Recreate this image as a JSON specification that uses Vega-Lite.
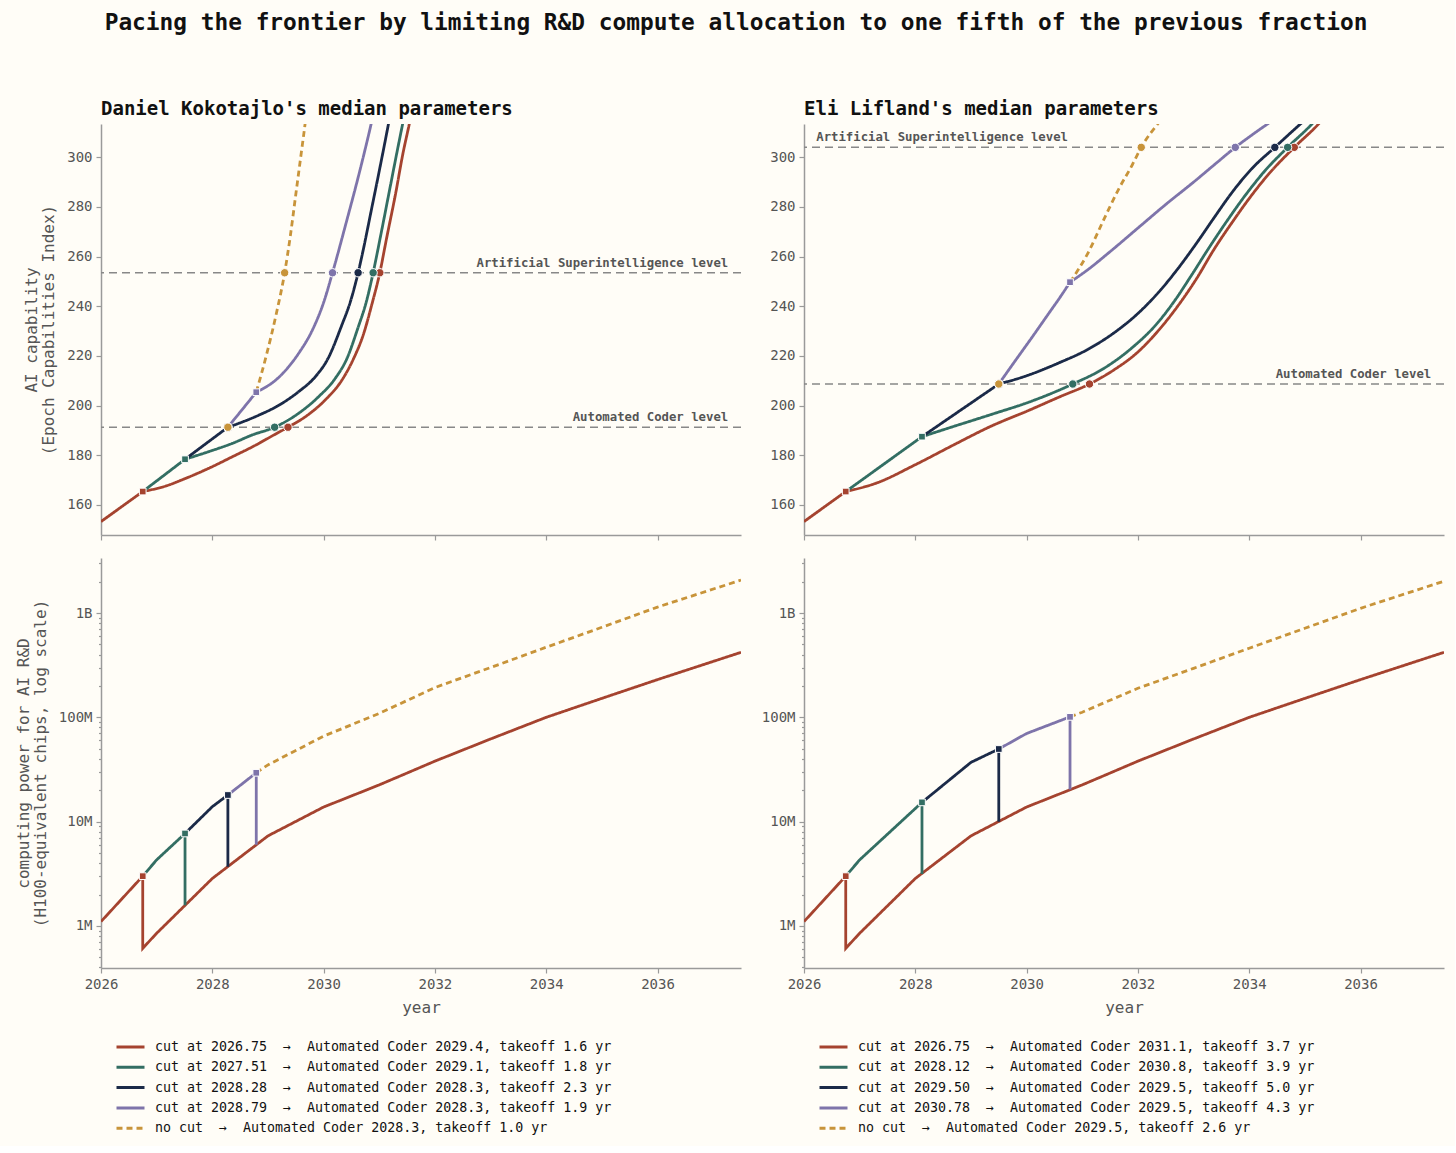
{
  "$schema": "https://vega.github.io/schema/vega-lite/v6.json",
  "background": "#fffdf7",
  "padding": {"left": 15, "top": 12, "right": 10, "bottom": 10},
  "title": {
    "text": "Pacing the frontier by limiting R&D compute allocation to one fifth of the previous fraction",
    "font": "DejaVu Sans Mono",
    "fontSize": 22.8,
    "fontWeight": "bold",
    "color": "#111111",
    "anchor": "middle",
    "frame": "bounds",
    "dx": 6,
    "offset": 65
  },
  "config": {
    "font": "DejaVu Sans Mono",
    "view": {"stroke": null},
    "axis": {
      "grid": false,
      "domainColor": "#9a9a9a",
      "domainWidth": 1.5,
      "tickColor": "#9a9a9a",
      "tickWidth": 1.2,
      "tickSize": 5,
      "labelFont": "DejaVu Sans Mono",
      "labelFontSize": 14,
      "labelColor": "#555555",
      "labelPadding": 4,
      "titleFont": "DejaVu Sans Mono",
      "titleFontSize": 16,
      "titleFontWeight": "normal",
      "titleColor": "#555555",
      "titleLineHeight": 17
    },
    "legend": {
      "orient": "none",
      "legendX": 14,
      "legendY": 482,
      "direction": "vertical",
      "symbolType": "stroke",
      "symbolSize": 784,
      "symbolStrokeWidth": 3,
      "clipHeight": 14,
      "rowPadding": 6.3,
      "labelOffset": 9,
      "labelFont": "DejaVu Sans Mono",
      "labelFontSize": 13.3,
      "labelColor": "#111111",
      "labelLimit": 700
    }
  },
  "datasets": {
    "dk_cap": [
      {"s": "c1", "p": 1, "x": 2026, "y": 153.3}, {"s": "c1", "p": 1, "x": 2026.75, "y": 165.4},
      {"s": "c1", "p": 2, "x": 2026.75, "y": 165.4}, {"s": "c1", "p": 2, "x": 2027.16, "y": 167.6}, {"s": "c1", "p": 2, "x": 2027.52, "y": 170.7},
      {"s": "c1", "p": 2, "x": 2027.94, "y": 174.8}, {"s": "c1", "p": 2, "x": 2028.36, "y": 179.4}, {"s": "c1", "p": 2, "x": 2028.78, "y": 184.1},
      {"s": "c1", "p": 2, "x": 2029.14, "y": 188.6}, {"s": "c1", "p": 2, "x": 2029.36, "y": 191.3}, {"s": "c1", "p": 2, "x": 2029.67, "y": 195.5},
      {"s": "c1", "p": 2, "x": 2030.03, "y": 202.3}, {"s": "c1", "p": 2, "x": 2030.33, "y": 210.3}, {"s": "c1", "p": 2, "x": 2030.53, "y": 218.5},
      {"s": "c1", "p": 2, "x": 2030.72, "y": 229.0}, {"s": "c1", "p": 2, "x": 2030.87, "y": 241.0}, {"s": "c1", "p": 2, "x": 2031.01, "y": 253.5},
      {"s": "c1", "p": 2, "x": 2031.13, "y": 267.2}, {"s": "c1", "p": 2, "x": 2031.3, "y": 286.1}, {"s": "c1", "p": 2, "x": 2031.42, "y": 300.9},
      {"s": "c1", "p": 2, "x": 2031.55, "y": 314.5}, {"s": "c1", "p": 2, "x": 2031.6, "y": 320},
      {"s": "c2", "p": 1, "x": 2026.75, "y": 165.4}, {"s": "c2", "p": 1, "x": 2027.51, "y": 178.4},
      {"s": "c2", "p": 2, "x": 2027.51, "y": 178.4}, {"s": "c2", "p": 2, "x": 2027.94, "y": 181.5}, {"s": "c2", "p": 2, "x": 2028.36, "y": 184.8},
      {"s": "c2", "p": 2, "x": 2028.72, "y": 188.2}, {"s": "c2", "p": 2, "x": 2029.12, "y": 191.3}, {"s": "c2", "p": 2, "x": 2029.55, "y": 196.9},
      {"s": "c2", "p": 2, "x": 2029.91, "y": 203.6}, {"s": "c2", "p": 2, "x": 2030.21, "y": 211.0}, {"s": "c2", "p": 2, "x": 2030.42, "y": 219.0},
      {"s": "c2", "p": 2, "x": 2030.62, "y": 231.5}, {"s": "c2", "p": 2, "x": 2030.77, "y": 242.0}, {"s": "c2", "p": 2, "x": 2030.89, "y": 253.5},
      {"s": "c2", "p": 2, "x": 2031.03, "y": 269.0}, {"s": "c2", "p": 2, "x": 2031.2, "y": 288.5}, {"s": "c2", "p": 2, "x": 2031.34, "y": 304.5},
      {"s": "c2", "p": 2, "x": 2031.43, "y": 314.5}, {"s": "c2", "p": 2, "x": 2031.48, "y": 320},
      {"s": "c3", "p": 1, "x": 2027.51, "y": 178.4}, {"s": "c3", "p": 1, "x": 2028.28, "y": 191.3},
      {"s": "c3", "p": 2, "x": 2028.28, "y": 191.3}, {"s": "c3", "p": 2, "x": 2028.48, "y": 192.9}, {"s": "c3", "p": 2, "x": 2028.84, "y": 196.2},
      {"s": "c3", "p": 2, "x": 2029.2, "y": 200.2}, {"s": "c3", "p": 2, "x": 2029.55, "y": 205.6}, {"s": "c3", "p": 2, "x": 2029.85, "y": 211.6},
      {"s": "c3", "p": 2, "x": 2030.08, "y": 219.0}, {"s": "c3", "p": 2, "x": 2030.32, "y": 232.0}, {"s": "c3", "p": 2, "x": 2030.49, "y": 242.5},
      {"s": "c3", "p": 2, "x": 2030.62, "y": 253.5}, {"s": "c3", "p": 2, "x": 2030.71, "y": 262.5}, {"s": "c3", "p": 2, "x": 2030.86, "y": 279.0},
      {"s": "c3", "p": 2, "x": 2031.0, "y": 294.5}, {"s": "c3", "p": 2, "x": 2031.17, "y": 314.0}, {"s": "c3", "p": 2, "x": 2031.22, "y": 320},
      {"s": "c4", "p": 1, "x": 2028.28, "y": 191.3}, {"s": "c4", "p": 1, "x": 2028.79, "y": 205.4},
      {"s": "c4", "p": 2, "x": 2028.79, "y": 205.4}, {"s": "c4", "p": 2, "x": 2029.2, "y": 211.5}, {"s": "c4", "p": 2, "x": 2029.55, "y": 221.0},
      {"s": "c4", "p": 2, "x": 2029.8, "y": 230.5}, {"s": "c4", "p": 2, "x": 2030.0, "y": 241.5}, {"s": "c4", "p": 2, "x": 2030.16, "y": 253.5},
      {"s": "c4", "p": 2, "x": 2030.4, "y": 273.2}, {"s": "c4", "p": 2, "x": 2030.65, "y": 294.5}, {"s": "c4", "p": 2, "x": 2030.86, "y": 314.0},
      {"s": "c4", "p": 2, "x": 2030.92, "y": 320},
      {"s": "none", "p": 2, "x": 2028.79, "y": 205.4}, {"s": "none", "p": 2, "x": 2028.98, "y": 221.0}, {"s": "none", "p": 2, "x": 2029.15, "y": 237.0},
      {"s": "none", "p": 2, "x": 2029.3, "y": 253.5}, {"s": "none", "p": 2, "x": 2029.4, "y": 268.0}, {"s": "none", "p": 2, "x": 2029.5, "y": 285.0},
      {"s": "none", "p": 2, "x": 2029.6, "y": 302.0}, {"s": "none", "p": 2, "x": 2029.67, "y": 314.0}, {"s": "none", "p": 2, "x": 2029.7, "y": 320}
    ],
    "dk_cap_cuts": [
      {"s": "c1", "x": 2026.75, "y": 165.4}, {"s": "c2", "x": 2027.51, "y": 178.4},
      {"s": "c3", "x": 2028.28, "y": 191.3}, {"s": "c4", "x": 2028.79, "y": 205.4}
    ],
    "dk_cap_hits": [
      {"s": "c1", "x": 2029.36, "y": 191.3}, {"s": "c2", "x": 2029.12, "y": 191.3}, {"s": "c3", "x": 2028.28, "y": 191.3},
      {"s": "c4", "x": 2028.28, "y": 191.3}, {"s": "none", "x": 2028.28, "y": 191.3},
      {"s": "c1", "x": 2031.01, "y": 253.5}, {"s": "c2", "x": 2030.89, "y": 253.5}, {"s": "c3", "x": 2030.62, "y": 253.5},
      {"s": "c4", "x": 2030.16, "y": 253.5}, {"s": "none", "x": 2029.3, "y": 253.5}
    ],
    "dk_levels": [
      {"level": "Artificial Superintelligence level", "y": 253.5, "lx": 2037.27},
      {"level": "Automated Coder level", "y": 191.3, "lx": 2037.27}
    ],
    "el_cap": [
      {"s": "c1", "p": 1, "x": 2026, "y": 153.3}, {"s": "c1", "p": 1, "x": 2026.75, "y": 165.4},
      {"s": "c1", "p": 2, "x": 2026.75, "y": 165.4}, {"s": "c1", "p": 2, "x": 2027.3, "y": 168.8}, {"s": "c1", "p": 2, "x": 2028.0, "y": 176.2},
      {"s": "c1", "p": 2, "x": 2028.7, "y": 184.3}, {"s": "c1", "p": 2, "x": 2029.36, "y": 191.7}, {"s": "c1", "p": 2, "x": 2030.01, "y": 197.8},
      {"s": "c1", "p": 2, "x": 2030.59, "y": 203.5}, {"s": "c1", "p": 2, "x": 2031.13, "y": 208.7}, {"s": "c1", "p": 2, "x": 2031.57, "y": 214.4},
      {"s": "c1", "p": 2, "x": 2031.98, "y": 221.2}, {"s": "c1", "p": 2, "x": 2032.39, "y": 230.8}, {"s": "c1", "p": 2, "x": 2032.72, "y": 240.2},
      {"s": "c1", "p": 2, "x": 2033.05, "y": 251.0}, {"s": "c1", "p": 2, "x": 2033.37, "y": 263.0}, {"s": "c1", "p": 2, "x": 2033.7, "y": 274.0},
      {"s": "c1", "p": 2, "x": 2034.03, "y": 284.3}, {"s": "c1", "p": 2, "x": 2034.36, "y": 293.5}, {"s": "c1", "p": 2, "x": 2034.81, "y": 304.0},
      {"s": "c1", "p": 2, "x": 2035.25, "y": 313.5}, {"s": "c1", "p": 2, "x": 2035.35, "y": 316},
      {"s": "c2", "p": 1, "x": 2026.75, "y": 165.4}, {"s": "c2", "p": 1, "x": 2028.12, "y": 187.5},
      {"s": "c2", "p": 2, "x": 2028.12, "y": 187.5}, {"s": "c2", "p": 2, "x": 2028.7, "y": 191.7}, {"s": "c2", "p": 2, "x": 2029.36, "y": 196.4},
      {"s": "c2", "p": 2, "x": 2030.09, "y": 201.8}, {"s": "c2", "p": 2, "x": 2030.83, "y": 208.7}, {"s": "c2", "p": 2, "x": 2031.41, "y": 215.3},
      {"s": "c2", "p": 2, "x": 2031.9, "y": 223.4}, {"s": "c2", "p": 2, "x": 2032.31, "y": 232.2}, {"s": "c2", "p": 2, "x": 2032.64, "y": 241.6},
      {"s": "c2", "p": 2, "x": 2032.96, "y": 252.4}, {"s": "c2", "p": 2, "x": 2033.29, "y": 264.0}, {"s": "c2", "p": 2, "x": 2033.62, "y": 275.0},
      {"s": "c2", "p": 2, "x": 2033.95, "y": 285.3}, {"s": "c2", "p": 2, "x": 2034.28, "y": 294.5}, {"s": "c2", "p": 2, "x": 2034.69, "y": 304.0},
      {"s": "c2", "p": 2, "x": 2035.13, "y": 313.5}, {"s": "c2", "p": 2, "x": 2035.23, "y": 316},
      {"s": "c3", "p": 1, "x": 2028.12, "y": 187.5}, {"s": "c3", "p": 1, "x": 2029.5, "y": 208.7},
      {"s": "c3", "p": 2, "x": 2029.5, "y": 208.7}, {"s": "c3", "p": 2, "x": 2029.93, "y": 211.5}, {"s": "c3", "p": 2, "x": 2030.59, "y": 217.3},
      {"s": "c3", "p": 2, "x": 2031.08, "y": 222.4}, {"s": "c3", "p": 2, "x": 2031.57, "y": 229.3}, {"s": "c3", "p": 2, "x": 2031.98, "y": 236.7},
      {"s": "c3", "p": 2, "x": 2032.39, "y": 246.1}, {"s": "c3", "p": 2, "x": 2032.72, "y": 255.2}, {"s": "c3", "p": 2, "x": 2033.05, "y": 265.3},
      {"s": "c3", "p": 2, "x": 2033.37, "y": 275.7}, {"s": "c3", "p": 2, "x": 2033.7, "y": 286.1}, {"s": "c3", "p": 2, "x": 2034.05, "y": 295.5},
      {"s": "c3", "p": 2, "x": 2034.46, "y": 304.0}, {"s": "c3", "p": 2, "x": 2034.9, "y": 313.0}, {"s": "c3", "p": 2, "x": 2035.05, "y": 316},
      {"s": "c4", "p": 1, "x": 2029.5, "y": 208.7}, {"s": "c4", "p": 1, "x": 2029.8, "y": 218.2}, {"s": "c4", "p": 1, "x": 2030.1, "y": 227.6},
      {"s": "c4", "p": 1, "x": 2030.4, "y": 237.2}, {"s": "c4", "p": 1, "x": 2030.6, "y": 243.6}, {"s": "c4", "p": 1, "x": 2030.78, "y": 249.7},
      {"s": "c4", "p": 2, "x": 2030.78, "y": 249.7}, {"s": "c4", "p": 2, "x": 2031.08, "y": 254.4}, {"s": "c4", "p": 2, "x": 2031.5, "y": 262.0},
      {"s": "c4", "p": 2, "x": 2032.0, "y": 271.5}, {"s": "c4", "p": 2, "x": 2032.5, "y": 281.0}, {"s": "c4", "p": 2, "x": 2033.0, "y": 290.0},
      {"s": "c4", "p": 2, "x": 2033.4, "y": 297.5}, {"s": "c4", "p": 2, "x": 2033.75, "y": 304.0}, {"s": "c4", "p": 2, "x": 2034.1, "y": 309.8},
      {"s": "c4", "p": 2, "x": 2034.4, "y": 314.5},
      {"s": "none", "p": 2, "x": 2030.78, "y": 249.7}, {"s": "none", "p": 2, "x": 2031.08, "y": 260.5}, {"s": "none", "p": 2, "x": 2031.41, "y": 276.0},
      {"s": "none", "p": 2, "x": 2031.65, "y": 287.0}, {"s": "none", "p": 2, "x": 2031.9, "y": 297.0}, {"s": "none", "p": 2, "x": 2032.06, "y": 304.0},
      {"s": "none", "p": 2, "x": 2032.37, "y": 313.8}, {"s": "none", "p": 2, "x": 2032.45, "y": 316}
    ],
    "el_cap_cuts": [
      {"s": "c1", "x": 2026.75, "y": 165.4}, {"s": "c2", "x": 2028.12, "y": 187.5},
      {"s": "c3", "x": 2029.5, "y": 208.7}, {"s": "c4", "x": 2030.78, "y": 249.7}
    ],
    "el_cap_hits": [
      {"s": "c1", "x": 2031.13, "y": 208.7}, {"s": "c2", "x": 2030.83, "y": 208.7}, {"s": "c3", "x": 2029.5, "y": 208.7},
      {"s": "c4", "x": 2029.5, "y": 208.7}, {"s": "none", "x": 2029.5, "y": 208.7},
      {"s": "c1", "x": 2034.81, "y": 304.0}, {"s": "c2", "x": 2034.69, "y": 304.0}, {"s": "c3", "x": 2034.46, "y": 304.0},
      {"s": "c4", "x": 2033.75, "y": 304.0}, {"s": "none", "x": 2032.06, "y": 304.0}
    ],
    "el_levels": [
      {"level": "Artificial Superintelligence level", "y": 304.0, "lx": 2026.22},
      {"level": "Automated Coder level", "y": 208.7, "lx": 2037.27}
    ],
    "dk_cmp": [
      {"s": "c1", "x": 2026, "y": 1100000}, {"s": "c1", "x": 2026.75, "y": 3000000}, {"s": "c1", "x": 2026.75, "y": 610000},
      {"s": "c1", "x": 2027, "y": 850000}, {"s": "c1", "x": 2028, "y": 2850000}, {"s": "c1", "x": 2029, "y": 7300000},
      {"s": "c1", "x": 2030, "y": 13800000}, {"s": "c1", "x": 2031, "y": 22500000}, {"s": "c1", "x": 2032, "y": 38000000},
      {"s": "c1", "x": 2033, "y": 62000000}, {"s": "c1", "x": 2034, "y": 100000000}, {"s": "c1", "x": 2035, "y": 152000000},
      {"s": "c1", "x": 2036, "y": 230000000}, {"s": "c1", "x": 2037.5, "y": 420000000},
      {"s": "c2", "x": 2026.75, "y": 3000000}, {"s": "c2", "x": 2027, "y": 4300000}, {"s": "c2", "x": 2027.51, "y": 7700000},
      {"s": "c2", "x": 2027.51, "y": 1580000},
      {"s": "c3", "x": 2027.51, "y": 7700000}, {"s": "c3", "x": 2028, "y": 13900000}, {"s": "c3", "x": 2028.28, "y": 18000000},
      {"s": "c3", "x": 2028.28, "y": 3700000},
      {"s": "c4", "x": 2028.28, "y": 18000000}, {"s": "c4", "x": 2028.79, "y": 29400000}, {"s": "c4", "x": 2028.79, "y": 6000000},
      {"s": "none", "x": 2028.79, "y": 29400000}, {"s": "none", "x": 2029, "y": 35000000}, {"s": "none", "x": 2030, "y": 66000000},
      {"s": "none", "x": 2031, "y": 109000000}, {"s": "none", "x": 2032, "y": 193000000}, {"s": "none", "x": 2033, "y": 300000000},
      {"s": "none", "x": 2034, "y": 470000000}, {"s": "none", "x": 2035, "y": 730000000}, {"s": "none", "x": 2036, "y": 1140000000},
      {"s": "none", "x": 2037.5, "y": 2070000000}
    ],
    "dk_cmp_cuts": [
      {"s": "c1", "x": 2026.75, "y": 3000000}, {"s": "c2", "x": 2027.51, "y": 7700000},
      {"s": "c3", "x": 2028.28, "y": 18000000}, {"s": "c4", "x": 2028.79, "y": 29400000}
    ],
    "el_cmp": [
      {"s": "c1", "x": 2026, "y": 1100000}, {"s": "c1", "x": 2026.75, "y": 3000000}, {"s": "c1", "x": 2026.75, "y": 610000},
      {"s": "c1", "x": 2027, "y": 850000}, {"s": "c1", "x": 2028, "y": 2850000}, {"s": "c1", "x": 2029, "y": 7300000},
      {"s": "c1", "x": 2030, "y": 13800000}, {"s": "c1", "x": 2031, "y": 22500000}, {"s": "c1", "x": 2032, "y": 38000000},
      {"s": "c1", "x": 2033, "y": 62000000}, {"s": "c1", "x": 2034, "y": 100000000}, {"s": "c1", "x": 2035, "y": 152000000},
      {"s": "c1", "x": 2036, "y": 230000000}, {"s": "c1", "x": 2037.5, "y": 420000000},
      {"s": "c2", "x": 2026.75, "y": 3000000}, {"s": "c2", "x": 2027, "y": 4300000}, {"s": "c2", "x": 2028.12, "y": 15300000},
      {"s": "c2", "x": 2028.12, "y": 3150000},
      {"s": "c3", "x": 2028.12, "y": 15300000}, {"s": "c3", "x": 2029, "y": 37000000}, {"s": "c3", "x": 2029.5, "y": 49700000},
      {"s": "c3", "x": 2029.5, "y": 10000000},
      {"s": "c4", "x": 2029.5, "y": 49700000}, {"s": "c4", "x": 2030, "y": 70000000}, {"s": "c4", "x": 2030.78, "y": 101000000},
      {"s": "c4", "x": 2030.78, "y": 20300000},
      {"s": "none", "x": 2030.78, "y": 101000000}, {"s": "none", "x": 2031, "y": 112000000}, {"s": "none", "x": 2032, "y": 190000000},
      {"s": "none", "x": 2033, "y": 295000000}, {"s": "none", "x": 2034, "y": 460000000}, {"s": "none", "x": 2035, "y": 715000000},
      {"s": "none", "x": 2036, "y": 1110000000}, {"s": "none", "x": 2037.5, "y": 2020000000}
    ],
    "el_cmp_cuts": [
      {"s": "c1", "x": 2026.75, "y": 3000000}, {"s": "c2", "x": 2028.12, "y": 15300000},
      {"s": "c3", "x": 2029.5, "y": 49700000}, {"s": "c4", "x": 2030.78, "y": 101000000}
    ]
  },
  "concat": [
    {
      "title": {"text": "Daniel Kokotajlo's median parameters", "font": "DejaVu Sans Mono", "fontSize": 19, "fontWeight": "bold", "color": "#111111", "anchor": "start", "frame": "group", "offset": 5},
      "width": 640,
      "height": 411,
      "encoding": {
        "x": {"field": "x", "type": "quantitative", "scale": {"domain": [2026, 2037.5], "nice": false, "zero": false},
              "axis": {"values": [2026, 2028, 2030, 2032, 2034, 2036], "labels": false, "title": null}},
        "y": {"field": "y", "type": "quantitative", "scale": {"domain": [147.9, 313.4], "nice": false, "zero": false},
              "axis": {"values": [160, 180, 200, 220, 240, 260, 280, 300], "title": ["AI capability", "(Epoch Capabilities Index)"], "titlePadding": 10}}
      },
      "layer": [
        {
          "data": {"name": "dk_levels"},
          "mark": {"type": "rule", "color": "#888888", "strokeWidth": 1.5, "strokeDash": [8, 5]},
          "encoding": {"x": null}
        },
        {
          "data": {"name": "dk_levels"},
          "mark": {"type": "text", "align": "right", "baseline": "bottom", "dy": -3, "fontSize": 12.3, "fontWeight": "bold", "color": "#555555"},
          "encoding": {"x": {"field": "lx", "type": "quantitative"}, "text": {"field": "level", "type": "nominal"}}
        },
        {
          "data": {"name": "dk_cap"},
          "mark": {"type": "line", "strokeWidth": 2.8, "interpolate": "monotone", "clip": true},
          "encoding": {
            "color": {"field": "s", "scale": {"domain": ["c1", "c2", "c3", "c4", "none"], "range": ["#a5432f", "#336e63", "#1b2a48", "#7e74aa", "#c8943a"]}, "legend": null},
            "strokeDash": {"field": "s", "scale": {"domain": ["c1", "c2", "c3", "c4", "none"], "range": [[1, 0], [1, 0], [1, 0], [1, 0], [6, 4]]}, "legend": null},
            "detail": {"field": "p"},
            "order": {"value": null}
          }
        },
        {
          "data": {"name": "dk_cap_cuts"},
          "mark": {"type": "point", "shape": "square", "filled": true, "size": 45, "stroke": "white", "strokeWidth": 1, "opacity": 1},
          "encoding": {"fill": {"field": "s", "scale": {"domain": ["c1", "c2", "c3", "c4", "none"], "range": ["#a5432f", "#336e63", "#1b2a48", "#7e74aa", "#c8943a"]}, "legend": null}}
        },
        {
          "data": {"name": "dk_cap_hits"},
          "mark": {"type": "point", "shape": "circle", "filled": true, "size": 70, "stroke": "white", "strokeWidth": 1, "opacity": 1},
          "encoding": {"fill": {"field": "s", "scale": {"domain": ["c1", "c2", "c3", "c4", "none"], "range": ["#a5432f", "#336e63", "#1b2a48", "#7e74aa", "#c8943a"]}, "legend": null}}
        }
      ]
    },
    {
      "title": {"text": "Eli Lifland's median parameters", "font": "DejaVu Sans Mono", "fontSize": 19, "fontWeight": "bold", "color": "#111111", "anchor": "start", "frame": "group", "offset": 5},
      "width": 640,
      "height": 411,
      "encoding": {
        "x": {"field": "x", "type": "quantitative", "scale": {"domain": [2026, 2037.5], "nice": false, "zero": false},
              "axis": {"values": [2026, 2028, 2030, 2032, 2034, 2036], "labels": false, "title": null}},
        "y": {"field": "y", "type": "quantitative", "scale": {"domain": [147.9, 313.4], "nice": false, "zero": false},
              "axis": {"values": [160, 180, 200, 220, 240, 260, 280, 300], "title": null}}
      },
      "layer": [
        {
          "data": {"name": "el_levels"},
          "mark": {"type": "rule", "color": "#888888", "strokeWidth": 1.5, "strokeDash": [8, 5]},
          "encoding": {"x": null}
        },
        {
          "data": {"name": "el_levels"},
          "transform": [{"filter": "datum.level == 'Artificial Superintelligence level'"}],
          "mark": {"type": "text", "align": "left", "baseline": "bottom", "dy": -3, "fontSize": 12.3, "fontWeight": "bold", "color": "#555555"},
          "encoding": {"x": {"field": "lx", "type": "quantitative"}, "text": {"field": "level", "type": "nominal"}}
        },
        {
          "data": {"name": "el_levels"},
          "transform": [{"filter": "datum.level == 'Automated Coder level'"}],
          "mark": {"type": "text", "align": "right", "baseline": "bottom", "dy": -3, "fontSize": 12.3, "fontWeight": "bold", "color": "#555555"},
          "encoding": {"x": {"field": "lx", "type": "quantitative"}, "text": {"field": "level", "type": "nominal"}}
        },
        {
          "data": {"name": "el_cap"},
          "mark": {"type": "line", "strokeWidth": 2.8, "interpolate": "monotone", "clip": true},
          "encoding": {
            "color": {"field": "s", "scale": {"domain": ["c1", "c2", "c3", "c4", "none"], "range": ["#a5432f", "#336e63", "#1b2a48", "#7e74aa", "#c8943a"]}, "legend": null},
            "strokeDash": {"field": "s", "scale": {"domain": ["c1", "c2", "c3", "c4", "none"], "range": [[1, 0], [1, 0], [1, 0], [1, 0], [6, 4]]}, "legend": null},
            "detail": {"field": "p"},
            "order": {"value": null}
          }
        },
        {
          "data": {"name": "el_cap_cuts"},
          "mark": {"type": "point", "shape": "square", "filled": true, "size": 45, "stroke": "white", "strokeWidth": 1, "opacity": 1},
          "encoding": {"fill": {"field": "s", "scale": {"domain": ["c1", "c2", "c3", "c4", "none"], "range": ["#a5432f", "#336e63", "#1b2a48", "#7e74aa", "#c8943a"]}, "legend": null}}
        },
        {
          "data": {"name": "el_cap_hits"},
          "mark": {"type": "point", "shape": "circle", "filled": true, "size": 70, "stroke": "white", "strokeWidth": 1, "opacity": 1},
          "encoding": {"fill": {"field": "s", "scale": {"domain": ["c1", "c2", "c3", "c4", "none"], "range": ["#a5432f", "#336e63", "#1b2a48", "#7e74aa", "#c8943a"]}, "legend": null}}
        }
      ]
    },
    {
      "width": 640,
      "height": 410,
      "encoding": {
        "x": {"field": "x", "type": "quantitative", "scale": {"domain": [2026, 2037.5], "nice": false, "zero": false},
              "axis": {"values": [2026, 2028, 2030, 2032, 2034, 2036], "format": "d", "labelFlush": false, "title": "year", "titlePadding": 8}},
        "y": {"field": "y", "type": "quantitative", "scale": {"type": "log", "domain": [395000, 3370000000], "nice": false},
              "axis": {
                "values": [400000, 500000, 600000, 700000, 800000, 900000, 1000000, 2000000, 3000000, 4000000, 5000000, 6000000, 7000000, 8000000, 9000000, 10000000, 20000000, 30000000, 40000000, 50000000, 60000000, 70000000, 80000000, 90000000, 100000000, 200000000, 300000000, 400000000, 500000000, 600000000, 700000000, 800000000, 900000000, 1000000000, 2000000000, 3000000000],
                "labelExpr": "datum.value == 1000000 ? '1M' : datum.value == 10000000 ? '10M' : datum.value == 100000000 ? '100M' : datum.value == 1000000000 ? '1B' : ''",
                "labelOverlap": false,
                "tickSize": {"condition": {"test": "datum.value == 1000000 || datum.value == 10000000 || datum.value == 100000000 || datum.value == 1000000000", "value": 5}, "value": 2.5},
                "title": ["computing power for AI R&D", "(H100-equivalent chips, log scale)"],
                "titlePadding": 10
              }}
      },
      "layer": [
        {
          "data": {"name": "dk_cmp"},
          "mark": {"type": "line", "strokeWidth": 2.8, "clip": true},
          "encoding": {
            "color": {"field": "s", "title": null, "scale": {"domain": ["c1", "c2", "c3", "c4", "none"], "range": ["#a5432f", "#336e63", "#1b2a48", "#7e74aa", "#c8943a"]},
                      "legend": {"labelExpr": "datum.value == 'c1' ? 'cut at 2026.75\u00a0\u00a0→\u00a0\u00a0Automated Coder 2029.4, takeoff 1.6 yr' : datum.value == 'c2' ? 'cut at 2027.51\u00a0\u00a0→\u00a0\u00a0Automated Coder 2029.1, takeoff 1.8 yr' : datum.value == 'c3' ? 'cut at 2028.28\u00a0\u00a0→\u00a0\u00a0Automated Coder 2028.3, takeoff 2.3 yr' : datum.value == 'c4' ? 'cut at 2028.79\u00a0\u00a0→\u00a0\u00a0Automated Coder 2028.3, takeoff 1.9 yr' : 'no cut\u00a0\u00a0→\u00a0\u00a0Automated Coder 2028.3, takeoff 1.0 yr'"}},
            "strokeDash": {"field": "s", "title": null, "scale": {"domain": ["c1", "c2", "c3", "c4", "none"], "range": [[1, 0], [1, 0], [1, 0], [1, 0], [6, 4]]},
                      "legend": {"labelExpr": "datum.value == 'c1' ? 'cut at 2026.75\u00a0\u00a0→\u00a0\u00a0Automated Coder 2029.4, takeoff 1.6 yr' : datum.value == 'c2' ? 'cut at 2027.51\u00a0\u00a0→\u00a0\u00a0Automated Coder 2029.1, takeoff 1.8 yr' : datum.value == 'c3' ? 'cut at 2028.28\u00a0\u00a0→\u00a0\u00a0Automated Coder 2028.3, takeoff 2.3 yr' : datum.value == 'c4' ? 'cut at 2028.79\u00a0\u00a0→\u00a0\u00a0Automated Coder 2028.3, takeoff 1.9 yr' : 'no cut\u00a0\u00a0→\u00a0\u00a0Automated Coder 2028.3, takeoff 1.0 yr'"}},
            "order": {"value": null}
          }
        },
        {
          "data": {"name": "dk_cmp_cuts"},
          "mark": {"type": "point", "shape": "square", "filled": true, "size": 45, "stroke": "white", "strokeWidth": 1, "opacity": 1},
          "encoding": {"fill": {"field": "s", "scale": {"domain": ["c1", "c2", "c3", "c4", "none"], "range": ["#a5432f", "#336e63", "#1b2a48", "#7e74aa", "#c8943a"]}, "legend": null}}
        }
      ]
    },
    {
      "width": 640,
      "height": 410,
      "encoding": {
        "x": {"field": "x", "type": "quantitative", "scale": {"domain": [2026, 2037.5], "nice": false, "zero": false},
              "axis": {"values": [2026, 2028, 2030, 2032, 2034, 2036], "format": "d", "labelFlush": false, "title": "year", "titlePadding": 8}},
        "y": {"field": "y", "type": "quantitative", "scale": {"type": "log", "domain": [395000, 3370000000], "nice": false},
              "axis": {
                "values": [400000, 500000, 600000, 700000, 800000, 900000, 1000000, 2000000, 3000000, 4000000, 5000000, 6000000, 7000000, 8000000, 9000000, 10000000, 20000000, 30000000, 40000000, 50000000, 60000000, 70000000, 80000000, 90000000, 100000000, 200000000, 300000000, 400000000, 500000000, 600000000, 700000000, 800000000, 900000000, 1000000000, 2000000000, 3000000000],
                "labelExpr": "datum.value == 1000000 ? '1M' : datum.value == 10000000 ? '10M' : datum.value == 100000000 ? '100M' : datum.value == 1000000000 ? '1B' : ''",
                "labelOverlap": false,
                "tickSize": {"condition": {"test": "datum.value == 1000000 || datum.value == 10000000 || datum.value == 100000000 || datum.value == 1000000000", "value": 5}, "value": 2.5},
                "title": null
              }}
      },
      "layer": [
        {
          "data": {"name": "el_cmp"},
          "mark": {"type": "line", "strokeWidth": 2.8, "clip": true},
          "encoding": {
            "color": {"field": "s", "title": null, "scale": {"domain": ["c1", "c2", "c3", "c4", "none"], "range": ["#a5432f", "#336e63", "#1b2a48", "#7e74aa", "#c8943a"]},
                      "legend": {"labelExpr": "datum.value == 'c1' ? 'cut at 2026.75\u00a0\u00a0→\u00a0\u00a0Automated Coder 2031.1, takeoff 3.7 yr' : datum.value == 'c2' ? 'cut at 2028.12\u00a0\u00a0→\u00a0\u00a0Automated Coder 2030.8, takeoff 3.9 yr' : datum.value == 'c3' ? 'cut at 2029.50\u00a0\u00a0→\u00a0\u00a0Automated Coder 2029.5, takeoff 5.0 yr' : datum.value == 'c4' ? 'cut at 2030.78\u00a0\u00a0→\u00a0\u00a0Automated Coder 2029.5, takeoff 4.3 yr' : 'no cut\u00a0\u00a0→\u00a0\u00a0Automated Coder 2029.5, takeoff 2.6 yr'"}},
            "strokeDash": {"field": "s", "title": null, "scale": {"domain": ["c1", "c2", "c3", "c4", "none"], "range": [[1, 0], [1, 0], [1, 0], [1, 0], [6, 4]]},
                      "legend": {"labelExpr": "datum.value == 'c1' ? 'cut at 2026.75\u00a0\u00a0→\u00a0\u00a0Automated Coder 2031.1, takeoff 3.7 yr' : datum.value == 'c2' ? 'cut at 2028.12\u00a0\u00a0→\u00a0\u00a0Automated Coder 2030.8, takeoff 3.9 yr' : datum.value == 'c3' ? 'cut at 2029.50\u00a0\u00a0→\u00a0\u00a0Automated Coder 2029.5, takeoff 5.0 yr' : datum.value == 'c4' ? 'cut at 2030.78\u00a0\u00a0→\u00a0\u00a0Automated Coder 2029.5, takeoff 4.3 yr' : 'no cut\u00a0\u00a0→\u00a0\u00a0Automated Coder 2029.5, takeoff 2.6 yr'"}},
            "order": {"value": null}
          }
        },
        {
          "data": {"name": "el_cmp_cuts"},
          "mark": {"type": "point", "shape": "square", "filled": true, "size": 45, "stroke": "white", "strokeWidth": 1, "opacity": 1},
          "encoding": {"fill": {"field": "s", "scale": {"domain": ["c1", "c2", "c3", "c4", "none"], "range": ["#a5432f", "#336e63", "#1b2a48", "#7e74aa", "#c8943a"]}, "legend": null}}
        }
      ]
    }
  ],
  "columns": 2,
  "align": "each",
  "bounds": "flush",
  "spacing": {"row": 23, "column": 63},
  "resolve": {
    "scale": {"color": "independent", "strokeDash": "independent", "fill": "independent", "x": "independent", "y": "independent"},
    "legend": {"color": "independent", "strokeDash": "independent"},
    "axis": {"x": "independent", "y": "independent"}
  }
}
